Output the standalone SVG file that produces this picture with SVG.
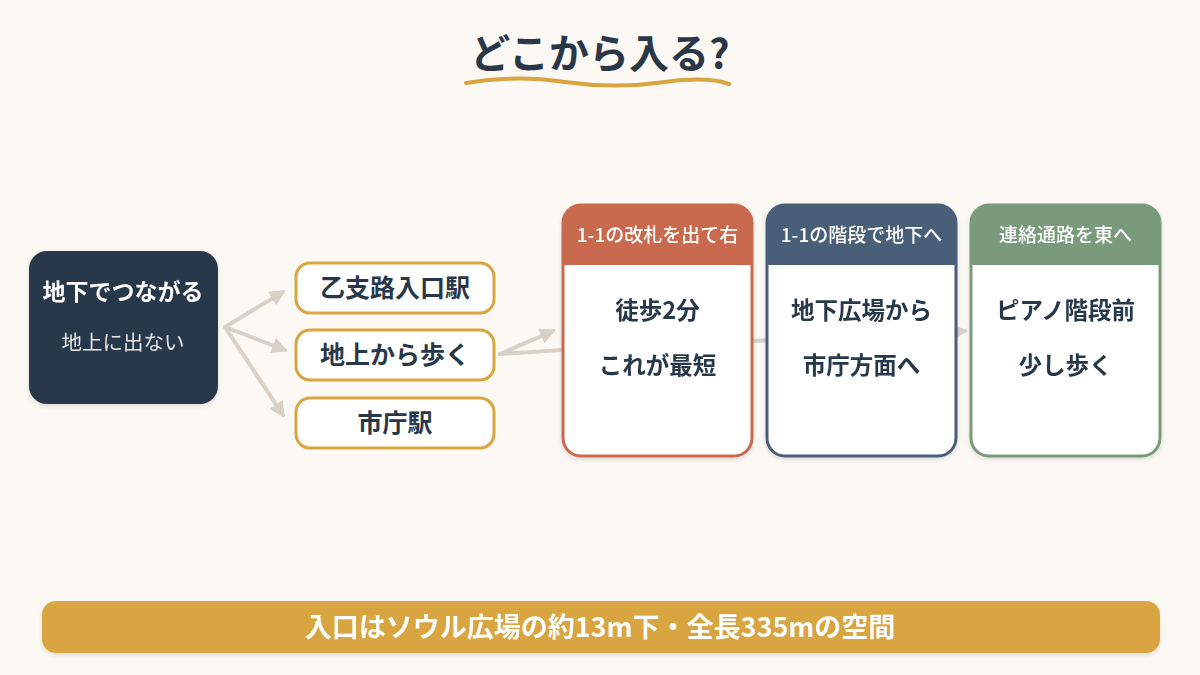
<svg xmlns="http://www.w3.org/2000/svg" width="1200" height="675" viewBox="0 0 1200 675">
<defs>
<style>
.t{font-family:"Noto Sans CJK JP","Noto Sans",sans-serif;text-anchor:middle}
.c{stroke:#d9d1c7;stroke-width:4;fill:none;stroke-linecap:round}
.opt rect{fill:#ffffff;stroke:#d9a540;stroke-width:3}
.opt text{font-size:25px;font-weight:700;fill:#283749}
.card .body{fill:#ffffff;stroke-width:3}
.card .hd{font-size:19px;font-weight:500;fill:#ffffff}
.card .bt{font-size:23.5px;font-weight:700;fill:#283749}
</style>
<marker id="ah" viewBox="0 0 10 10" refX="8" refY="5" markerWidth="4" markerHeight="4" orient="auto" markerUnits="strokeWidth">
<path d="M0,0 L10,5 L0,10 z" fill="#d9d1c7"/>
</marker>
<filter id="sh" x="-10%" y="-10%" width="120%" height="130%">
<feDropShadow dx="0" dy="2" stdDeviation="2" flood-color="#000" flood-opacity="0.12"/>
</filter>
</defs>
<rect width="1200" height="675" fill="#fcf8f3"/>
<g id="title">
<text class="t" x="600" y="68" font-size="40" font-weight="700" fill="#2a3748">どこから入る?</text>
<path d="M466,83 C500,77 530,77 565,82 C600,87 630,87 665,82 C695,78 715,79 729,84" stroke="#d9a540" stroke-width="4" fill="none" stroke-linecap="round"/>
</g>
<g id="connectors">
<line class="c" x1="225" y1="327" x2="283" y2="292" marker-end="url(#ah)"/>
<line class="c" x1="225" y1="327" x2="285" y2="350" marker-end="url(#ah)"/>
<line class="c" x1="225" y1="327" x2="283" y2="415" marker-end="url(#ah)"/>
<line class="c" x1="500" y1="354" x2="553" y2="331" marker-end="url(#ah)"/>
<line class="c" x1="500" y1="354" x2="640" y2="345"/>
<line class="c" x1="700" y1="343" x2="800" y2="339"/>
<line class="c" x1="900" y1="336" x2="965" y2="331" marker-end="url(#ah)"/>
</g>
<g id="main" filter="url(#sh)">
<rect x="29" y="251" width="189" height="153" rx="18" fill="#283749"/>
<text class="t" x="123" y="300" font-size="23" font-weight="700" fill="#ffffff">地下でつながる</text>
<text class="t" x="123" y="350" font-size="20.5" fill="#e6e6e6">地上に出ない</text>
</g>
<g id="opt1" class="opt">
<rect x="296" y="263" width="198" height="50" rx="14"/>
<text class="t" x="395" y="297">乙支路入口駅</text>
</g>
<g id="opt2" class="opt">
<rect x="296" y="330" width="198" height="50" rx="14"/>
<text class="t" x="395" y="364">地上から歩く</text>
</g>
<g id="opt3" class="opt">
<rect x="296" y="398" width="198" height="50" rx="14"/>
<text class="t" x="395" y="432">市庁駅</text>
</g>
<g id="card1" class="card" filter="url(#sh)">
<rect class="body" x="563" y="205" width="189" height="251" rx="18" stroke="#c96a50"/>
<path d="M563,265 V223 A18,18 0 0 1 581,205 H734 A18,18 0 0 1 752,223 V265 Z" fill="#c96a50"/>
<text class="t hd" x="657.5" y="242">1-1の改札を出て右</text>
<text class="t bt" x="657.5" y="319">徒歩2分</text>
<text class="t bt" x="657.5" y="374">これが最短</text>
</g>
<g id="card2" class="card" filter="url(#sh)">
<rect class="body" x="767" y="205" width="189" height="251" rx="18" stroke="#4a5e78"/>
<path d="M767,265 V223 A18,18 0 0 1 785,205 H938 A18,18 0 0 1 956,223 V265 Z" fill="#4a5e78"/>
<text class="t hd" x="861.5" y="242">1-1の階段で地下へ</text>
<text class="t bt" x="861.5" y="319">地下広場から</text>
<text class="t bt" x="861.5" y="374">市庁方面へ</text>
</g>
<g id="card3" class="card" filter="url(#sh)">
<rect class="body" x="971" y="205" width="189" height="251" rx="18" stroke="#7a9a7c"/>
<path d="M971,265 V223 A18,18 0 0 1 989,205 H1142 A18,18 0 0 1 1160,223 V265 Z" fill="#7a9a7c"/>
<text class="t hd" x="1065.5" y="242">連絡通路を東へ</text>
<text class="t bt" x="1065.5" y="319">ピアノ階段前</text>
<text class="t bt" x="1065.5" y="374">少し歩く</text>
</g>
<g id="footer" filter="url(#sh)">
<rect x="42" y="601" width="1118" height="52" rx="14" fill="#d9a540"/>
<text class="t" x="600" y="637" font-size="27" font-weight="700" fill="#ffffff">入口はソウル広場の約13m下・全長335mの空間</text>
</g>
</svg>
